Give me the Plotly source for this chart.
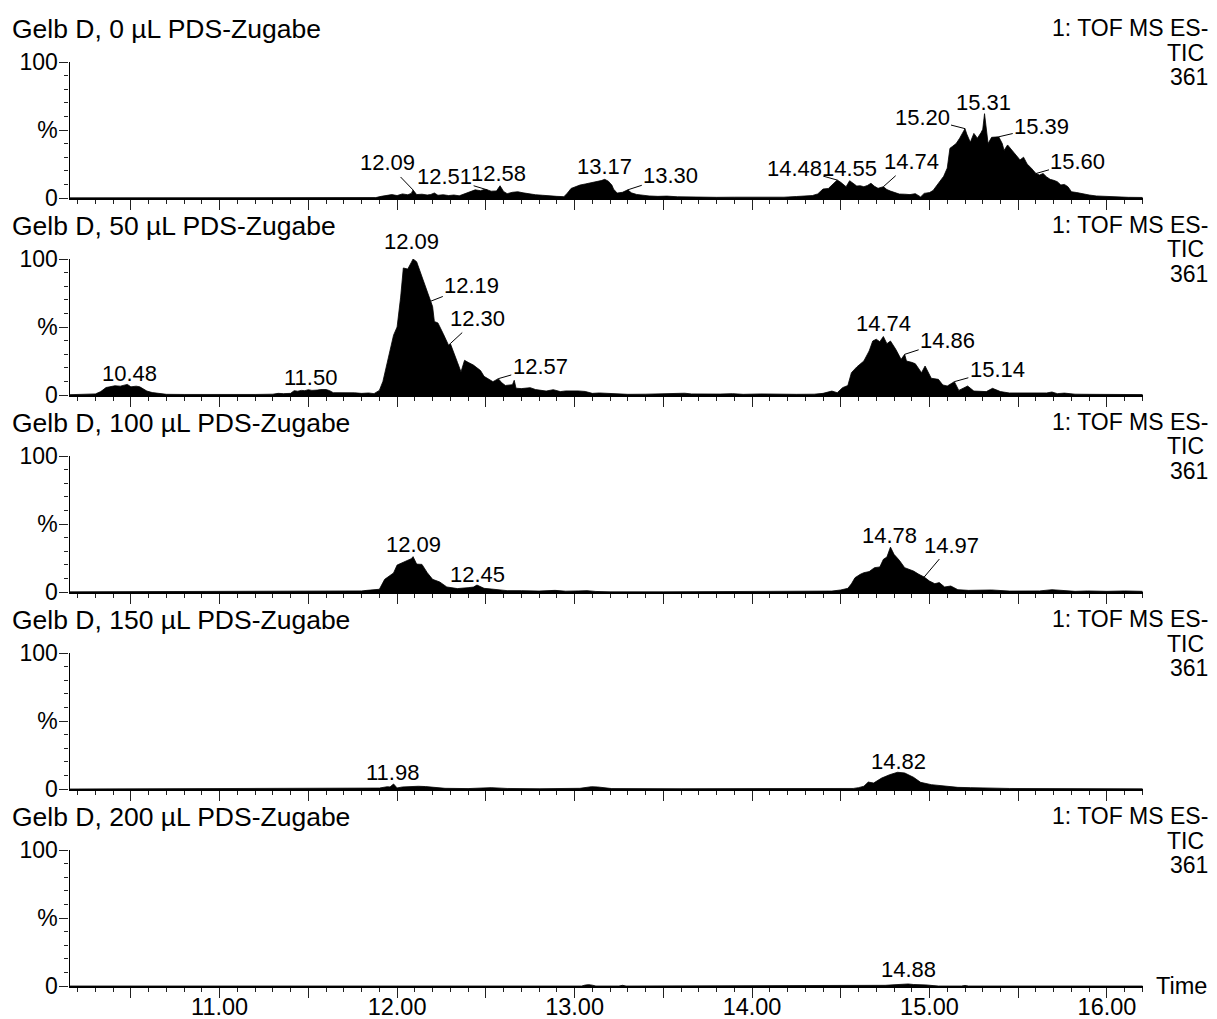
import plotly.graph_objects as go

# ---------------------------------------------------------------- data
# Retention time (min) and relative intensity (%) of the TIC traces
t_0ul = [10.15, 10.60, 10.70, 10.80, 11.50, 11.88, 11.91, 11.94, 11.97, 12.00, 12.03, 12.06, 12.08, 12.09,
         12.11, 12.14, 12.17, 12.19, 12.21, 12.23, 12.26, 12.29, 12.32, 12.35, 12.38, 12.41, 12.44, 12.47,
         12.49, 12.51, 12.53, 12.56, 12.58, 12.60, 12.62, 12.65, 12.68, 12.71, 12.74, 12.78, 12.82, 12.86,
         12.90, 12.94, 12.96, 12.98, 13.00, 13.03, 13.06, 13.09, 13.12, 13.15, 13.17, 13.19, 13.21, 13.22,
         13.24, 13.27, 13.30, 13.32, 13.35, 13.38, 13.42, 13.47, 13.52, 13.58, 13.65, 13.72, 13.80, 13.90,
         14.00, 14.10, 14.18, 14.25, 14.30, 14.34, 14.37, 14.40, 14.43, 14.46, 14.48, 14.50, 14.53, 14.55,
         14.57, 14.59, 14.61, 14.63, 14.65, 14.67, 14.69, 14.71, 14.74, 14.76, 14.78, 14.80, 14.83, 14.86,
         14.89, 14.92, 14.95, 14.97, 15.00, 15.02, 15.04, 15.06, 15.08, 15.10, 15.115, 15.13, 15.15, 15.17,
         15.19, 15.20, 15.21, 15.23, 15.25, 15.27, 15.29, 15.30, 15.31, 15.33, 15.35, 15.37, 15.39, 15.41,
         15.42, 15.44, 15.46, 15.49, 15.51, 15.53, 15.55, 15.57, 15.60, 15.62, 15.64, 15.66, 15.68, 15.70,
         15.72, 15.74, 15.76, 15.78, 15.80, 15.83, 15.87, 15.90, 15.94, 16.00, 16.06, 16.12, 16.20]
i_0ul = [0.1, 0.2, 0.4, 0.1, 0.1, 0.3, 1.2, 2.0, 2.5, 1.8, 3.0, 2.4, 3.4, 5.9,
         2.5, 2.8, 2.2, 2.6, 3.7, 2.0, 2.4, 1.8, 2.2, 1.6, 3.0, 4.5, 6.0, 5.4,
         6.2, 5.9, 5.0, 5.2, 9.0, 4.8, 3.2, 4.2, 4.6, 3.8, 3.0, 2.4, 2.0, 1.4,
         1.2, 1.0, 3.6, 7.0, 8.2, 9.5, 10.3, 11.0, 12.0, 12.8, 13.7, 12.4, 9.5, 6.5,
         3.6, 4.2, 6.0, 3.8, 2.6, 2.0, 1.5, 1.2, 1.4, 0.9, 0.6, 0.8, 0.5, 0.6,
         0.5, 0.9, 0.6, 1.1, 1.3, 1.8, 3.0, 6.6, 7.0, 10.5, 13.2, 11.5, 8.3, 12.7,
         10.5, 8.8, 9.0, 8.3, 9.2, 10.8, 8.6, 7.1, 8.3, 6.2, 5.1, 4.2, 2.9, 2.8,
         2.5, 3.2, 0.8, 3.4, 4.0, 5.5, 9.0, 12.0, 16.0, 22.0, 36.5, 38.0, 40.0, 44.0,
         48.5, 51.0, 47.0, 41.0, 47.5, 44.0, 48.0, 50.5, 62.0, 40.0, 44.6, 45.0, 45.0, 40.0,
         35.0, 39.0, 36.0, 31.6, 28.0, 30.0, 25.0, 22.5, 18.0, 16.9, 18.0, 15.5, 13.7, 13.0,
         12.0, 9.6, 10.0, 8.3, 4.6, 4.0, 2.7, 2.2, 1.5, 1.0, 0.7, 0.5, 0.4]

t_50ul = [10.15, 10.25, 10.30, 10.33, 10.36, 10.38, 10.41, 10.44, 10.46, 10.48, 10.50, 10.53, 10.55, 10.57,
          10.59, 10.62, 10.65, 10.70, 10.80, 10.90, 11.00, 11.10, 11.20, 11.30, 11.33, 11.36, 11.40, 11.42,
          11.44, 11.46, 11.48, 11.50, 11.52, 11.55, 11.57, 11.60, 11.62, 11.64, 11.68, 11.72, 11.76, 11.80,
          11.84, 11.87, 11.90, 11.92, 11.94, 11.96, 11.98, 12.00, 12.02, 12.035, 12.06, 12.08, 12.09, 12.11,
          12.13, 12.15, 12.17, 12.19, 12.20, 12.21, 12.23, 12.26, 12.29, 12.30, 12.32, 12.34, 12.36, 12.38,
          12.40, 12.43, 12.45, 12.47, 12.49, 12.51, 12.54, 12.57, 12.59, 12.61, 12.65, 12.66, 12.67, 12.70,
          12.73, 12.75, 12.78, 12.81, 12.84, 12.88, 12.92, 12.95, 12.98, 13.02, 13.06, 13.10, 13.14, 13.18,
          13.24, 13.30, 13.40, 13.50, 13.57, 13.62, 13.66, 13.75, 13.82, 13.89, 13.95, 14.05, 14.15, 14.25,
          14.35, 14.40, 14.45, 14.48, 14.51, 14.54, 14.56, 14.59, 14.63, 14.66, 14.68, 14.70, 14.72, 14.74,
          14.76, 14.78, 14.81, 14.84, 14.86, 14.87, 14.90, 14.92, 14.955, 14.975, 15.01, 15.05, 15.075, 15.10,
          15.14, 15.165, 15.19, 15.215, 15.25, 15.32, 15.355, 15.40, 15.45, 15.52, 15.60, 15.66, 15.69, 15.72,
          15.76, 15.82, 15.90, 16.00, 16.10, 16.20]
i_50ul = [0.2, 0.3, 0.8, 2.5, 5.5, 6.0, 6.8, 6.5, 7.2, 7.8, 6.0, 6.5, 6.0, 4.5,
          2.9, 1.8, 1.2, 0.5, 0.4, 0.3, 0.4, 0.3, 0.4, 0.6, 1.2, 1.0, 1.2, 3.2,
          2.8, 3.4, 3.2, 3.9, 3.4, 3.6, 4.0, 4.0, 3.2, 1.7, 1.8, 1.4, 1.6, 1.2,
          1.5, 1.0, 3.4, 10.0, 20.6, 32.0, 44.0, 50.0, 72.0, 93.4, 92.6, 97.5, 100.0, 98.0,
          91.0, 84.0, 76.0, 69.0, 65.0, 54.0, 53.0, 45.0, 36.6, 37.8, 31.6, 24.0, 17.0, 25.5,
          24.0, 22.0, 20.0, 18.0, 13.7, 12.0, 9.8, 12.0, 9.0, 7.0, 7.6, 10.8, 5.0, 4.7,
          5.0, 5.4, 4.0, 3.4, 2.9, 3.9, 2.5, 3.0, 3.2, 3.0, 2.6, 1.2, 1.5, 1.2,
          0.9, 0.5, 0.6, 0.8, 1.2, 1.3, 0.8, 0.5, 0.7, 1.0, 0.5, 0.8, 0.4, 0.5,
          0.6, 1.2, 2.9, 1.7, 5.4, 7.0, 16.4, 20.6, 25.0, 32.4, 39.7, 41.0, 39.2, 43.0,
          37.7, 39.7, 33.6, 26.2, 29.9, 25.0, 24.0, 23.0, 16.4, 21.3, 12.3, 11.5, 7.4, 6.6,
          9.8, 3.4, 5.0, 6.6, 2.9, 2.5, 4.9, 2.5, 1.5, 1.6, 1.2, 1.5, 2.2, 1.0,
          1.4, 0.6, 0.5, 0.4, 0.3, 0.3]

t_100ul = [10.15, 10.50, 11.00, 11.50, 11.74, 11.80, 11.83, 11.87, 11.90, 11.93, 11.96, 11.98, 12.00, 12.03,
           12.06, 12.08, 12.09, 12.11, 12.14, 12.17, 12.20, 12.24, 12.28, 12.34, 12.40, 12.43, 12.45, 12.49,
           12.53, 12.58, 12.62, 12.70, 12.80, 12.89, 12.95, 13.02, 13.07, 13.12, 13.20, 13.50, 13.77, 14.00,
           14.30, 14.45, 14.50, 14.54, 14.56, 14.58, 14.61, 14.63, 14.66, 14.69, 14.72, 14.74, 14.76, 14.78,
           14.80, 14.83, 14.86, 14.91, 14.94, 14.97, 15.00, 15.03, 15.055, 15.085, 15.12, 15.16, 15.22, 15.28,
           15.35, 15.45, 15.55, 15.62, 15.69, 15.75, 15.82, 15.89, 16.00, 16.10, 16.20]
i_100ul = [0.1, 0.2, 0.1, 0.2, 0.3, 0.8, 1.2, 1.6, 2.0, 9.3, 12.0, 14.0, 19.8, 21.6,
           22.8, 24.5, 26.0, 20.5, 20.3, 14.2, 9.3, 7.4, 3.7, 2.5, 3.2, 3.6, 5.1, 2.7,
           2.2, 1.5, 1.0, 1.0, 0.7, 1.2, 0.6, 0.8, 1.0, 0.4, 0.1, 0.1, 0.3, 0.1,
           0.2, 0.7, 1.5, 2.7, 6.0, 10.5, 13.0, 14.2, 15.0, 17.9, 18.4, 24.0, 25.7, 33.0,
           27.7, 23.3, 17.9, 15.4, 13.0, 11.0, 8.0, 6.1, 6.9, 3.7, 4.4, 1.7, 1.2, 1.2,
           1.5, 0.7, 0.6, 0.8, 1.7, 0.9, 0.5, 0.8, 0.5, 0.8, 0.5]

t_150ul = [10.15, 10.60, 11.00, 11.60, 11.80, 11.90, 11.945, 11.96, 11.98, 12.00, 12.03, 12.07, 12.12, 12.16,
           12.21, 12.27, 12.40, 12.53, 12.62, 12.80, 13.03, 13.07, 13.095, 13.13, 13.155, 13.21, 13.60, 14.00,
           14.40, 14.57, 14.60, 14.63, 14.655, 14.685, 14.73, 14.775, 14.82, 14.86, 14.91, 14.95, 15.01, 15.055,
           15.10, 15.16, 15.23, 15.31, 15.45, 15.60, 15.80, 16.20]
i_150ul = [0.0, 0.1, 0.0, 0.1, 0.4, 0.7, 1.7, 1.5, 3.7, 0.8, 1.5, 1.8, 2.0, 1.8,
           1.2, 0.5, 0.3, 1.0, 0.4, 0.2, 0.5, 1.2, 1.7, 1.5, 1.2, 0.3, 0.2, 0.1,
           0.2, 0.4, 1.0, 2.0, 5.1, 4.4, 8.0, 10.5, 12.3, 11.8, 8.6, 4.9, 3.2, 2.5,
           1.8, 1.2, 1.0, 0.7, 0.4, 0.3, 0.2, 0.1]

t_200ul = [10.15, 10.58, 10.60, 10.62, 10.78, 10.80, 10.82, 13.04, 13.06, 13.08, 13.10, 13.12, 13.25, 13.27,
           13.29, 13.68, 13.70, 13.72, 14.72, 14.75, 14.80, 14.84, 14.88, 14.91, 14.94, 14.98, 15.02, 15.05,
           15.18, 15.20, 15.22, 16.20]
i_200ul = [0.0, 0.0, 0.5, 0.0, 0.0, 0.5, 0.0, 0.0, 0.7, 1.0, 0.6, 0.0, 0.0, 0.5,
           0.0, 0.0, 0.5, 0.0, 0.0, 0.5, 0.9, 1.2, 1.5, 1.1, 1.2, 0.8, 0.3, 0.0,
           0.0, 0.4, 0.0, 0.0]

panel_titles = ["Gelb D, 0 µL PDS-Zugabe", "Gelb D, 50 µL PDS-Zugabe", "Gelb D, 100 µL PDS-Zugabe",
                "Gelb D, 150 µL PDS-Zugabe", "Gelb D, 200 µL PDS-Zugabe"]
scan_info = ["1: TOF MS ES-", "TIC", "361"]

# labelled retention times per panel
peaks_0ul = ["12.09", "12.51", "12.58", "13.17", "13.30", "14.48", "14.55", "14.74", "15.20", "15.31", "15.39", "15.60"]
peaks_50ul = ["10.48", "11.50", "12.09", "12.19", "12.30", "12.57", "14.74", "14.86", "15.14"]
peaks_100ul = ["12.09", "12.45", "14.78", "14.97"]
peaks_150ul = ["11.98", "14.82"]
peaks_200ul = ["14.88"]

x_tick_vals = [10.5, 11.0, 11.5, 12.0, 12.5, 13.0, 13.5, 14.0, 14.5, 15.0, 15.5, 16.0]
x_tick_text = ["", "11.00", "", "12.00", "", "13.00", "", "14.00", "", "15.00", "", "16.00"]
y_tick_vals = [0, 50, 100]
y_tick_text = ["0", "%", "100"]

# ---------------------------------------------------------------- layout constants
W, H = 1217, 1019
FONT = "Liberation Sans, Arial, Helvetica, sans-serif"
PLOT_LEFT, PLOT_RIGHT = 69.5, 1143.0          # px
T_RANGE = [10.154, 16.203]
BASELINES = [198, 395, 592, 789, 986]          # px of 0 % line per panel
PANEL_H = 136                                  # px from 0 % to 100 %

# label placement: (dx, dy, leader) in px relative to the peak apex
label_offsets = [
    {"12.09": (-26, -27, True), "12.51": (-43, -13, True), "12.58": (-2, -12, False),
     "13.17": (0, -13, False), "13.30": (43, -14, True), "14.48": (-43, -12, True),
     "14.55": (0, -12, False), "14.74": (28, -25, True), "15.20": (-43, -11, True),
     "15.31": (-1, -11, False), "15.39": (43, -10, True), "15.60": (42, -12, True)},
    {"10.48": (2, -11, False), "11.50": (2, -12, False), "12.09": (-2, -17, False),
     "12.19": (41, -16, True), "12.30": (27, -25, True), "12.57": (42, -12, True),
     "14.74": (0, -13, False), "14.86": (43, -14, True), "15.14": (43, -12, True)},
    {"12.09": (0, -12, False), "12.45": (1, -11, False), "14.78": (-1, -12, False),
     "14.97": (27, -32, True)},
    {"11.98": (-1, -11, False), "14.82": (1, -11, False)},
    {"14.88": (0, -14, False)},
]

series = [(t_0ul, i_0ul, peaks_0ul), (t_50ul, i_50ul, peaks_50ul), (t_100ul, i_100ul, peaks_100ul),
          (t_150ul, i_150ul, peaks_150ul), (t_200ul, i_200ul, peaks_200ul)]

fig = go.Figure()
annotations = []
layout_axes = {}
AX_COLOR = "#222222"

for k, (times, vals, peaks) in enumerate(series):
    n = k + 1
    xname = "x" if n == 1 else f"x{n}"
    yname = "y" if n == 1 else f"y{n}"
    base = BASELINES[k]
    y_dom = [1 - base / H, 1 - (base - PANEL_H) / H]
    last = (k == len(series) - 1)

    fig.add_trace(go.Scatter(
        x=times, y=vals, xaxis=xname, yaxis=yname, mode="lines",
        line=dict(color="black", width=0.8), fill="tozeroy", fillcolor="black",
        hoverinfo="skip", showlegend=False))

    layout_axes["xaxis" if n == 1 else f"xaxis{n}"] = dict(
        domain=[PLOT_LEFT / W, PLOT_RIGHT / W], range=T_RANGE, anchor=yname, automargin=False,
        showline=True, linecolor="black", linewidth=2, showgrid=False, zeroline=False,
        tickmode="array", tickvals=x_tick_vals,
        ticktext=x_tick_text if last else [""] * len(x_tick_vals),
        ticks="outside", ticklen=10, tickwidth=1, tickcolor=AX_COLOR,
        tickfont=dict(family=FONT, size=23.5, color="black"), ticklabelstandoff=-11,
        minor=dict(tickmode="linear", tick0=10.0, dtick=0.1, ticks="outside",
                   ticklen=4, tickwidth=1, tickcolor=AX_COLOR, showgrid=False),
        fixedrange=True)
    layout_axes["yaxis" if n == 1 else f"yaxis{n}"] = dict(
        domain=y_dom, range=[0, 100], anchor=xname, automargin=False,
        showline=True, linecolor="black", linewidth=1.3, showgrid=False, zeroline=False,
        tickmode="array", tickvals=y_tick_vals, ticktext=y_tick_text,
        ticks="outside", ticklen=9, tickwidth=1, tickcolor=AX_COLOR,
        tickfont=dict(family=FONT, size=23, color="black"), ticklabelstandoff=-3,
        minor=dict(tickmode="linear", tick0=0, dtick=10, ticks="outside",
                   ticklen=4, tickwidth=1, tickcolor=AX_COLOR, showgrid=False),
        fixedrange=True)

    # panel title and scan description
    top_px = base - PANEL_H
    annotations.append(dict(xref="paper", yref="paper", x=10 / W, y=1 - (top_px - 33) / H,
                            xanchor="left", yanchor="middle", showarrow=False,
                            text=panel_titles[k], font=dict(family=FONT, size=26.5, color="black")))
    for line, dy, right in zip(scan_info, (-34.5, -9.5, 15.0), (1209, 1205, 1209)):
        annotations.append(dict(xref="paper", yref="paper", x=right / W, y=1 - (top_px + dy) / H,
                                xanchor="right", yanchor="middle", showarrow=False, borderpad=0,
                                text=line, font=dict(family=FONT, size=23, color="black")))

    # retention-time labels at the peak apexes
    for rt in peaks:
        t = float(rt)
        v = vals[times.index(t)]
        dx, dy, leader = label_offsets[k][rt]
        ann = dict(xref=xname, yref=yname, x=t, y=v, text=rt,
                   font=dict(family=FONT, size=22, color="black"))
        if leader:
            ann.update(showarrow=True, arrowhead=0, arrowwidth=1, arrowcolor="black",
                       ax=dx, ay=dy, standoff=0)
        else:
            ann.update(showarrow=False, xanchor="center", yanchor="middle", xshift=dx, yshift=-dy)
        annotations.append(ann)

annotations.append(dict(xref="paper", yref="paper", x=1154 / W, y=1 - 986 / H,
                        xanchor="left", yanchor="middle", showarrow=False, text="Time",
                        font=dict(family=FONT, size=23.5, color="black")))

fig.update_layout(
    width=W, height=H, autosize=False,
    margin=dict(l=0, r=0, t=0, b=0, pad=0, autoexpand=False),
    paper_bgcolor="white", plot_bgcolor="white",
    font=dict(family=FONT, size=22, color="black"),
    annotations=annotations, showlegend=False, **layout_axes)

fig.write_html("out.html", config={"displayModeBar": False})
